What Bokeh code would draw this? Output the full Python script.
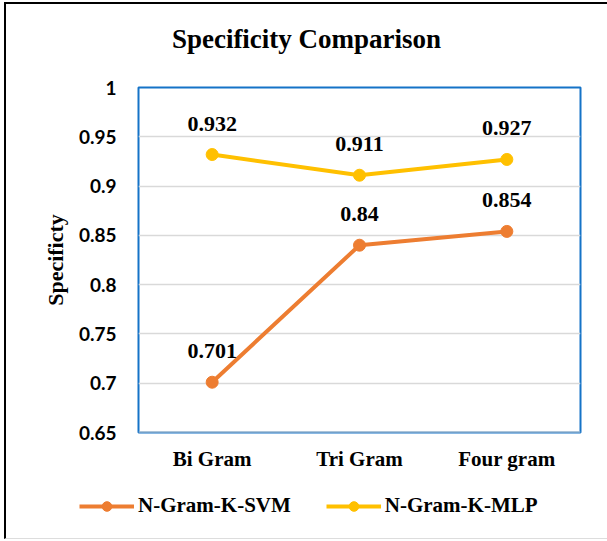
from bokeh.plotting import figure
from bokeh.layouts import column
from bokeh.models import (ColumnDataSource, LabelSet, Legend, LegendItem, Span,
                          FixedTicker, Range1d, Div)
from bokeh.embed import file_html
from bokeh.resources import INLINE

title_text = "Specificity Comparison"
categories = ["Bi Gram", "Tri Gram", "Four gram"]
svm_values = [0.701, 0.84, 0.854]
mlp_values = [0.932, 0.911, 0.927]
svm_labels = ["0.701", "0.84", "0.854"]
mlp_labels = ["0.932", "0.911", "0.927"]
series_names = ["N-Gram-K-SVM", "N-Gram-K-MLP"]
y_ticks = [0.65, 0.7, 0.75, 0.8, 0.85, 0.9, 0.95, 1.0]
y_tick_labels = ["0.65", "0.7", "0.75", "0.8", "0.85", "0.9", "0.95", "1"]

ORANGE = "#ED7D31"
YELLOW = "#FFC000"
SERIF = "Liberation Serif"
SANS = "Lato"

svm_src = ColumnDataSource(dict(x=categories, y=svm_values, t=svm_labels))
mlp_src = ColumnDataSource(dict(x=categories, y=mlp_values, t=mlp_labels))

# title strip
head = Div(text=title_text, width=601, height=49, margin=(11, 0, 0, 0),
           styles={"font-family": "'Liberation Serif', serif", "font-weight": "bold",
                   "font-size": "27px", "line-height": "49px", "text-align": "center",
                   "color": "#000000", "width": "601px", "height": "49px",
                   "overflow": "hidden"})

p = figure(width=601, height=416, x_range=categories, y_range=Range1d(0.65, 1.0),
           output_backend="svg", toolbar_location=None, title=None,
           min_border_left=132, min_border_right=27, min_border_top=23,
           min_border_bottom=48)
p.frame_align = False

p.outline_line_color = "#1573C7"
p.outline_line_width = 2

p.xgrid.grid_line_color = None
p.ygrid.grid_line_color = "#D9D9D9"
p.ygrid.grid_line_width = 1.5

p.yaxis.ticker = FixedTicker(ticks=y_ticks)
p.yaxis.major_label_overrides = {t: l for t, l in zip(y_ticks, y_tick_labels)}
p.yaxis.axis_line_color = None
p.yaxis.major_tick_line_color = None
p.yaxis.minor_tick_line_color = None
p.yaxis.major_label_text_font = SANS
p.yaxis.major_label_text_font_style = "bold"
p.yaxis.major_label_text_font_size = "19px"
p.yaxis.major_label_text_color = "#000000"
p.yaxis.major_label_standoff = 16
p.yaxis.axis_label = "Specificty"
p.yaxis.axis_label_text_font = SERIF
p.yaxis.axis_label_text_font_style = "bold"
p.yaxis.axis_label_text_font_size = "22px"
p.yaxis.axis_label_text_color = "#000000"
p.yaxis.axis_label_standoff = 8

p.xaxis.axis_line_color = None
p.xaxis.major_tick_line_color = None
p.xaxis.minor_tick_line_color = None
p.xaxis.major_label_text_font = SERIF
p.xaxis.major_label_text_font_style = "bold"
p.xaxis.major_label_text_font_size = "21px"
p.xaxis.major_label_text_color = "#000000"
p.xaxis.major_label_standoff = 8

p.add_layout(Span(location=0.65, dimension="width", line_color="#D0D0D0", line_width=2))

l1 = p.line("x", "y", source=svm_src, line_color=ORANGE, line_width=4)
s1 = p.scatter("x", "y", source=svm_src, size=12, fill_color=ORANGE, line_color=ORANGE)
l2 = p.line("x", "y", source=mlp_src, line_color=YELLOW, line_width=4)
s2 = p.scatter("x", "y", source=mlp_src, size=12, fill_color=YELLOW, line_color=YELLOW)

for src in (svm_src, mlp_src):
    p.add_layout(LabelSet(x="x", y="y", text="t", source=src, y_offset=24,
                          text_align="center", text_baseline="alphabetic",
                          text_font=SANS, text_font_style="bold",
                          text_font_size="22px", text_color="#000000"))

# legend strip below the chart (its own small plot, holding legend-only renderers)
lg = figure(width=601, height=58, x_range=Range1d(0, 1), y_range=Range1d(0, 1),
            output_backend="svg", toolbar_location=None, title=None,
            min_border_left=0, min_border_right=0, min_border_top=0,
            min_border_bottom=0)
lg.frame_align = False
lg.axis.visible = False
lg.grid.visible = False
lg.outline_line_color = None
off = dict(x=[-10, -9], y=[-10, -10])
dl1 = lg.line(x=off["x"], y=off["y"], line_color=ORANGE, line_width=4)
ds1 = lg.scatter(x=off["x"], y=off["y"], size=12, fill_color=ORANGE, line_color=ORANGE)
dl2 = lg.line(x=off["x"], y=off["y"], line_color=YELLOW, line_width=4)
ds2 = lg.scatter(x=off["x"], y=off["y"], size=12, fill_color=YELLOW, line_color=YELLOW)

legend = Legend(items=[LegendItem(label=series_names[0], renderers=[dl1, ds1]),
                       LegendItem(label=series_names[1], renderers=[dl2, ds2])],
                orientation="horizontal", location=(73, 20),
                glyph_width=55, glyph_height=24, label_height=24,
                label_standoff=4, spacing=35, padding=0, margin=0,
                label_text_font=SERIF, label_text_font_style="bold",
                label_text_font_size="21px", label_text_color="#000000",
                label_text_baseline="middle",
                border_line_alpha=0, background_fill_alpha=0)
lg.add_layout(legend, "center")

layout = column(head, p, lg, spacing=0,
                styles={"margin-left": "4px", "margin-top": "2px",
                        "border-left": "2px solid #000000",
                        "border-top": "2px solid #000000",
                        "border-bottom": "1px solid #DDDDDD"})

open("out.html", "w").write(file_html(layout, INLINE))
